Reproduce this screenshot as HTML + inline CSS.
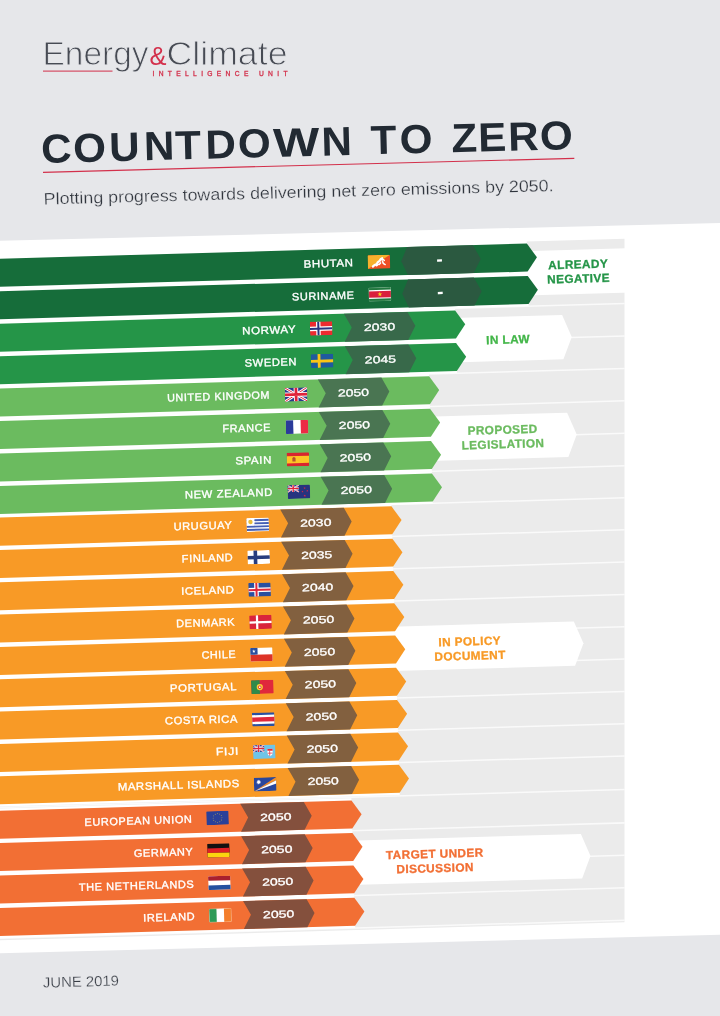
<!DOCTYPE html>
<html lang="en"><head><meta charset="utf-8"><title>Countdown to Zero</title>
<style>html,body{margin:0;padding:0;background:#e6e7ea;overflow:hidden}svg{display:block}text{font-family:"Liberation Sans",sans-serif}.b{font-weight:700}.n{font-size:10.7px;letter-spacing:.6px;fill:#fff;stroke:#fff;stroke-width:.36px}.y{font-size:10.2px;fill:#fff;stroke:#fff;stroke-width:.3px}.l{font-size:11.8px;font-weight:700;letter-spacing:.4px;stroke-width:.3px;text-anchor:middle}</style>
</head><body>
<svg width="720" height="1016" viewBox="0 0 720 1016">
<defs><clipPath id="cg"><rect x="-10" y="0" width="634.5" height="1016"/></clipPath>
<clipPath id="fc"><rect x="0" y="0" width="22.4" height="13.8" rx="1" ry="1"/></clipPath></defs>
<rect width="720" height="1016" fill="#e6e7ea"/>
<polygon points="0,240.8 720,222.9 720,934.7 0,953.3" fill="#fff"/>
<g>
<text x="42.5" y="65" font-size="33.4" fill="#474b54" stroke="#e6e7ea" stroke-width="0.9" textLength="106" lengthAdjust="spacingAndGlyphs">Energy</text>
<text x="149.6" y="65" font-size="25" fill="#d3304b" textLength="17" lengthAdjust="spacingAndGlyphs">&amp;</text>
<text x="166.5" y="65" font-size="33.4" fill="#474b54" stroke="#e6e7ea" stroke-width="0.9" textLength="121" lengthAdjust="spacingAndGlyphs">Climate</text>
<rect x="43" y="70.6" width="69.5" height="1" fill="#d3304b"/>
<text x="152.5" y="75.9" font-size="6.7" fill="#d3304b" stroke="#d3304b" stroke-width="0.3" textLength="135" lengthAdjust="spacing">INTELLIGENCE UNIT</text>
</g>
<g transform="rotate(-1.51 43 172)">
<g transform="translate(0 163) scale(1.04 1)" font-size="40.6" fill="#222a33" font-weight="700" text-anchor="middle">
<text x="54.7 86.8 120.2 153.6 181.5 212.7 245.2 285.5 324.3">COUNTDO<tspan textLength="44.5" lengthAdjust="spacingAndGlyphs">W</tspan>N</text>
<text x="369.4 400.7">TO</text>
<text x="447.1 473.9 503.9 535.6">ZERO</text>
</g>
<rect x="43" y="171.7" width="531.5" height="1.2" fill="#d3304b"/>
<text x="43" y="204.5" font-size="16.6" fill="#30353d" stroke="#e6e7ea" stroke-width="0.25" textLength="510" lengthAdjust="spacingAndGlyphs">Plotting progress towards delivering net zero emissions by 2050.</text>
</g>
<g clip-path="url(#cg)"><g transform="rotate(-1.65)">
<rect x="-40" y="256.6" width="760" height="683.3" fill="#ebebeb"/>
<rect x="-40" y="288.12" width="760" height="1.5" fill="#fff" opacity="0.75"/>
<rect x="-40" y="320.57" width="760" height="1.5" fill="#fff" opacity="0.75"/>
<rect x="-40" y="353.02" width="760" height="1.5" fill="#fff" opacity="0.75"/>
<rect x="-40" y="385.48" width="760" height="1.5" fill="#fff" opacity="0.75"/>
<rect x="-40" y="417.92" width="760" height="1.5" fill="#fff" opacity="0.75"/>
<rect x="-40" y="450.38" width="760" height="1.5" fill="#fff" opacity="0.75"/>
<rect x="-40" y="482.83" width="760" height="1.5" fill="#fff" opacity="0.75"/>
<rect x="-40" y="514.85" width="760" height="1.5" fill="#fff" opacity="0.75"/>
<rect x="-40" y="546.81" width="760" height="1.5" fill="#fff" opacity="0.75"/>
<rect x="-40" y="579.12" width="760" height="1.5" fill="#fff" opacity="0.75"/>
<rect x="-40" y="611.42" width="760" height="1.5" fill="#fff" opacity="0.75"/>
<rect x="-40" y="643.74" width="760" height="1.5" fill="#fff" opacity="0.75"/>
<rect x="-40" y="676.05" width="760" height="1.5" fill="#fff" opacity="0.75"/>
<rect x="-40" y="708.36" width="760" height="1.5" fill="#fff" opacity="0.75"/>
<rect x="-40" y="740.66" width="760" height="1.5" fill="#fff" opacity="0.75"/>
<rect x="-40" y="772.98" width="760" height="1.5" fill="#fff" opacity="0.75"/>
<rect x="-40" y="806.34" width="760" height="1.5" fill="#fff" opacity="0.75"/>
<rect x="-40" y="839.78" width="760" height="1.5" fill="#fff" opacity="0.75"/>
<rect x="-40" y="872.23" width="760" height="1.5" fill="#fff" opacity="0.75"/>
<rect x="-40" y="904.67" width="760" height="1.5" fill="#fff" opacity="0.75"/>
<rect x="-40" y="937.12" width="760" height="1.5" fill="#fff" opacity="0.75"/>
</g></g>
<g transform="rotate(-1.65)">
<polygon points="507.3,288.4 516.3,266.2 751,266.2 760,288.4 751,310.6 516.3,310.6" fill="#fff"/>
<text class="l" x="570.3" y="285" fill="#259548" stroke="#259548">ALREADY</text>
<text class="l" x="570.3" y="299.2" fill="#259548" stroke="#259548">NEGATIVE</text>
<polygon points="433.7,353.2 442.7,331 552.8,331 561.8,353.2 552.8,375.4 442.7,375.4" fill="#fff"/>
<text class="l" x="498" y="358" fill="#43b649" stroke="#43b649">IN LAW</text>
<polygon points="405.8,451 414.8,428.8 555,428.8 564,451 555,473.2 414.8,473.2" fill="#fff"/>
<text class="l" x="490" y="448.1" fill="#6bbb5f" stroke="#6bbb5f">PROPOSED</text>
<text class="l" x="490" y="462.5" fill="#6bbb5f" stroke="#6bbb5f">LEGISLATION</text>
<polygon points="364.4,659.9 373.4,637.7 555.7,637.7 564.7,659.9 555.7,682.1 373.4,682.1" fill="#fff"/>
<text class="l" x="451" y="658.65" fill="#f89a26" stroke="#f89a26">IN POLICY</text>
<text class="l" x="451" y="673.05" fill="#f89a26" stroke="#f89a26">DOCUMENT</text>
<polygon points="316,872.6 325,850.4 556.6,850.4 565.6,872.6 556.6,894.8 325,894.8" fill="#fff"/>
<text class="l" x="410" y="870" fill="#f26f34" stroke="#f26f34">TARGET UNDER</text>
<text class="l" x="410" y="884.4" fill="#f26f34" stroke="#f26f34">DISCUSSION</text>
<rect x="-40" y="254.4" width="559.6" height="34.5" fill="#fff"/>
<polygon points="-40,258.65 519.6,258.65 529.3,272.65 519.6,286.65 -40,286.65" fill="#166d3a"/>
<polygon points="393.65,272.65 399.8,258.65 465.6,258.65 473.1,272.65 465.6,286.65 399.8,286.65" fill="#2b5940"/>
<text class="n" x="345.9" y="276.35" text-anchor="end" textLength="49.9" lengthAdjust="spacingAndGlyphs">BHUTAN</text>
<g transform="translate(360.05 265.75)"><g clip-path="url(#fc)"><rect x="0" y="0" width="22.4" height="13.8" fill="#ee4e25"/><polygon points="0,0 22.4,0 0,13.8" fill="#f6b12d"/><path d="M5,11.4 C6.6,9.4 8.2,10.2 9.4,8.2 C10.2,6.2 11.8,7.2 12.4,5.2 C12.8,4 13.6,3.6 14.4,3.4" stroke="#fff" stroke-width="2.3" fill="none" stroke-linecap="round"/><path d="M13,4.6 C14.6,4 16,4.6 16.6,5.6 M14.6,6 C15.4,7.4 15,8.6 16,9 L17.4,9.8 M8.6,10.8 L10.4,9.4 M11.4,9.6 L12.8,8" stroke="#fff" stroke-width="1.5" fill="none" stroke-linecap="round"/></g></g>
<text class="b" x="431.77" y="278.05" font-size="19" text-anchor="middle" fill="#fff">-</text>
<rect x="-40" y="288.85" width="559.6" height="32.5" fill="#fff"/>
<polygon points="-40,291.1 519.6,291.1 529.3,305.1 519.6,319.1 -40,319.1" fill="#166d3a"/>
<polygon points="393.65,305.1 399.8,291.1 465.6,291.1 473.1,305.1 465.6,319.1 399.8,319.1" fill="#2b5940"/>
<text class="n" x="345.9" y="308.8" text-anchor="end" textLength="62.6" lengthAdjust="spacingAndGlyphs">SURINAME</text>
<g transform="translate(360.05 298.2)"><g clip-path="url(#fc)"><rect x="0" y="0" width="22.4" height="13.8" fill="#fff"/><rect x="0" y="0" width="22.4" height="2.5" fill="#22783f"/><rect x="0" y="11.3" width="22.4" height="2.5" fill="#22783f"/><rect x="0" y="3.7" width="22.4" height="6.4" fill="#d9203c"/><polygon points="11.20,4.40 11.79,6.09 13.58,6.13 12.15,7.21 12.67,8.92 11.20,7.90 9.73,8.92 10.25,7.21 8.82,6.13 10.61,6.09" fill="#f9d616"/><rect x="0.25" y="0.25" width="21.9" height="13.3" fill="none" stroke="#8fc29c" stroke-width="0.5" opacity="0.6"/></g></g>
<text class="b" x="431.77" y="310.5" font-size="19" text-anchor="middle" fill="#fff">-</text>
<rect x="-40" y="321.3" width="486" height="32.5" fill="#fff"/>
<polygon points="-40,323.55 446,323.55 455.7,337.55 446,351.55 -40,351.55" fill="#259548"/>
<polygon points="334.7,323.55 398.3,323.55 405.8,337.55 398.3,351.55 334.7,351.55 342.2,337.55" fill="#38694a"/>
<text class="n" x="286.5" y="341.25" text-anchor="end" textLength="53.9" lengthAdjust="spacingAndGlyphs">NORWAY</text>
<g transform="translate(300.4 330.65)"><g clip-path="url(#fc)"><rect x="0" y="0" width="22.4" height="13.8" fill="#ee2b30"/><rect x="6.2" y="0" width="4.4" height="13.8" fill="#fff"/><rect x="0" y="4.9" width="22.4" height="4.4" fill="#fff"/><rect x="7.4" y="0" width="2.0" height="13.8" fill="#2a3580"/><rect x="0" y="6.1" width="22.4" height="2.0" fill="#2a3580"/></g></g>
<text class="y" x="369.9" y="341.3" text-anchor="middle" textLength="31.3" lengthAdjust="spacingAndGlyphs">2030</text>
<rect x="-40" y="353.75" width="486" height="32.5" fill="#fff"/>
<polygon points="-40,356 446,356 455.7,370 446,384 -40,384" fill="#259548"/>
<polygon points="334.7,356 398.3,356 405.8,370 398.3,384 334.7,384 342.2,370" fill="#38694a"/>
<text class="n" x="286.5" y="373.7" text-anchor="end" textLength="52.35" lengthAdjust="spacingAndGlyphs">SWEDEN</text>
<g transform="translate(300.4 363.1)"><g clip-path="url(#fc)"><rect x="0" y="0" width="22.4" height="13.8" fill="#1f5a9e"/><rect x="6.8" y="0" width="2.8" height="13.8" fill="#fbc516"/><rect x="0" y="5.7" width="22.4" height="2.8" fill="#fbc516"/></g></g>
<text class="y" x="369.9" y="373.75" text-anchor="middle" textLength="31.3" lengthAdjust="spacingAndGlyphs">2045</text>
<rect x="-40" y="386.2" width="458.1" height="32.5" fill="#fff"/>
<polygon points="-40,388.45 418.1,388.45 427.8,402.45 418.1,416.45 -40,416.45" fill="#6bbb5f"/>
<polygon points="306.8,388.45 370.4,388.45 377.9,402.45 370.4,416.45 306.8,416.45 314.3,402.45" fill="#4a7552"/>
<text class="n" x="258.6" y="406.15" text-anchor="end" textLength="103.1" lengthAdjust="spacingAndGlyphs">UNITED KINGDOM</text>
<g transform="translate(273.4 395.95)"><g clip-path="url(#fc)"><rect x="0" y="0" width="22.4" height="13.8" fill="#2b3a8c"/><path d="M0,0L22.4,13.8M22.4,0L0,13.8" stroke="#fff" stroke-width="2.76"/><path d="M0,0L22.4,13.8M22.4,0L0,13.8" stroke="#e0243b" stroke-width="0.97"/><path d="M11.2,0V13.8M0,6.9H22.4" stroke="#fff" stroke-width="4.55"/><path d="M11.2,0V13.8M0,6.9H22.4" stroke="#e0243b" stroke-width="2.76"/></g></g>
<text class="y" x="342" y="406.2" text-anchor="middle" textLength="31.3" lengthAdjust="spacingAndGlyphs">2050</text>
<rect x="-40" y="418.65" width="458.1" height="32.5" fill="#fff"/>
<polygon points="-40,420.9 418.1,420.9 427.8,434.9 418.1,448.9 -40,448.9" fill="#6bbb5f"/>
<polygon points="306.8,420.9 370.4,420.9 377.9,434.9 370.4,448.9 306.8,448.9 314.3,434.9" fill="#4a7552"/>
<text class="n" x="258.6" y="438.6" text-anchor="end" textLength="48.6" lengthAdjust="spacingAndGlyphs">FRANCE</text>
<g transform="translate(273.4 428.4)"><g clip-path="url(#fc)"><rect x="0" y="0" width="22.4" height="13.8" fill="#fff"/><rect x="0" y="0" width="7.466666666666666" height="13.8" fill="#2b3a9a"/><rect x="14.933333333333332" y="0" width="7.5666666666666655" height="13.8" fill="#ec2a45"/></g></g>
<text class="y" x="342" y="438.65" text-anchor="middle" textLength="31.3" lengthAdjust="spacingAndGlyphs">2050</text>
<rect x="-40" y="451.1" width="458.1" height="32.5" fill="#fff"/>
<polygon points="-40,453.35 418.1,453.35 427.8,467.35 418.1,481.35 -40,481.35" fill="#6bbb5f"/>
<polygon points="306.8,453.35 370.4,453.35 377.9,467.35 370.4,481.35 306.8,481.35 314.3,467.35" fill="#4a7552"/>
<text class="n" x="258.6" y="471.05" text-anchor="end" textLength="36.6" lengthAdjust="spacingAndGlyphs">SPAIN</text>
<g transform="translate(273.4 460.85)"><g clip-path="url(#fc)"><rect x="0" y="0" width="22.4" height="13.8" fill="#d8262f"/><rect x="0" y="3.5" width="22.4" height="7.2" fill="#fcc525"/><rect x="5.6" y="5.2" width="3.2" height="3.8" fill="#b5552b"/><rect x="6.3" y="4.6" width="1.8" height="1.2" fill="#c43b2e"/></g></g>
<text class="y" x="342" y="471.1" text-anchor="middle" textLength="31.3" lengthAdjust="spacingAndGlyphs">2050</text>
<rect x="-40" y="483.55" width="458.1" height="32.5" fill="#fff"/>
<polygon points="-40,485.8 418.1,485.8 427.8,499.8 418.1,513.8 -40,513.8" fill="#6bbb5f"/>
<polygon points="306.8,485.8 370.4,485.8 377.9,499.8 370.4,513.8 306.8,513.8 314.3,499.8" fill="#4a7552"/>
<text class="n" x="258.6" y="503.5" text-anchor="end" textLength="88.1" lengthAdjust="spacingAndGlyphs">NEW ZEALAND</text>
<g transform="translate(273.4 493.3)"><g clip-path="url(#fc)"><rect x="0" y="0" width="22.4" height="13.8" fill="#27337f"/><g><rect x="0" y="0" width="11.2" height="6.9" fill="#2b3a8c"/><path d="M0,0L11.2,6.9M11.2,0L0,6.9" stroke="#fff" stroke-width="1.38"/><path d="M0,0L11.2,6.9M11.2,0L0,6.9" stroke="#e0243b" stroke-width="0.48"/><path d="M5.6,0V6.9M0,3.45H11.2" stroke="#fff" stroke-width="2.28"/><path d="M5.6,0V6.9M0,3.45H11.2" stroke="#e0243b" stroke-width="1.38"/></g><polygon points="17.00,2.20 17.28,3.01 18.14,3.03 17.46,3.55 17.71,4.37 17.00,3.88 16.29,4.37 16.54,3.55 15.86,3.03 16.72,3.01" fill="#e8283f"/><polygon points="19.60,5.10 19.86,5.84 20.65,5.86 20.02,6.34 20.25,7.09 19.60,6.64 18.95,7.09 19.18,6.34 18.55,5.86 19.34,5.84" fill="#e8283f"/><polygon points="14.80,5.70 15.06,6.44 15.85,6.46 15.22,6.94 15.45,7.69 14.80,7.24 14.15,7.69 14.38,6.94 13.75,6.46 14.54,6.44" fill="#e8283f"/><polygon points="17.00,9.70 17.31,10.58 18.24,10.60 17.49,11.16 17.76,12.05 17.00,11.52 16.24,12.05 16.51,11.16 15.76,10.60 16.69,10.58" fill="#e8283f"/></g></g>
<text class="y" x="342" y="503.55" text-anchor="middle" textLength="31.3" lengthAdjust="spacingAndGlyphs">2050</text>
<rect x="-40" y="515.15" width="416.7" height="32.5" fill="#fff"/>
<polygon points="-40,517.4 376.7,517.4 386.4,531.4 376.7,545.4 -40,545.4" fill="#f89a26"/>
<polygon points="265.4,517.4 329,517.4 336.5,531.4 329,545.4 265.4,545.4 272.9,531.4" fill="#82603f"/>
<text class="n" x="217.2" y="535.1" text-anchor="end" textLength="58.9" lengthAdjust="spacingAndGlyphs">URUGUAY</text>
<g transform="translate(231.3 525.05)"><g clip-path="url(#fc)"><rect x="0" y="0" width="22.4" height="13.8" fill="#fff"/><rect x="0" y="1.3" width="22.4" height="1.9" fill="#4660b4"/><rect x="0" y="4.5" width="22.4" height="1.9" fill="#4660b4"/><rect x="0" y="7.7" width="22.4" height="1.9" fill="#4660b4"/><rect x="0" y="10.900000000000002" width="22.4" height="1.9" fill="#4660b4"/><rect x="0" y="0" width="8.0" height="7.6" fill="#fff"/><circle cx="4.0" cy="3.9" r="2.2" fill="#e9bd3a"/></g></g>
<text class="y" x="300.6" y="535.15" text-anchor="middle" textLength="31.3" lengthAdjust="spacingAndGlyphs">2030</text>
<rect x="-40" y="547.46" width="416.7" height="32.5" fill="#fff"/>
<polygon points="-40,549.71 376.7,549.71 386.4,563.71 376.7,577.71 -40,577.71" fill="#f89a26"/>
<polygon points="265.4,549.71 329,549.71 336.5,563.71 329,577.71 265.4,577.71 272.9,563.71" fill="#82603f"/>
<text class="n" x="217.2" y="567.41" text-anchor="end" textLength="51.6" lengthAdjust="spacingAndGlyphs">FINLAND</text>
<g transform="translate(231.3 557.5)"><g clip-path="url(#fc)"><rect x="0" y="0" width="22.4" height="13.8" fill="#fff"/><rect x="6.2" y="0" width="3.6" height="13.8" fill="#263c7e"/><rect x="0" y="5.3" width="22.4" height="3.6" fill="#263c7e"/></g></g>
<text class="y" x="300.6" y="567.46" text-anchor="middle" textLength="31.3" lengthAdjust="spacingAndGlyphs">2035</text>
<rect x="-40" y="579.77" width="416.7" height="32.5" fill="#fff"/>
<polygon points="-40,582.02 376.7,582.02 386.4,596.02 376.7,610.02 -40,610.02" fill="#f89a26"/>
<polygon points="265.4,582.02 329,582.02 336.5,596.02 329,610.02 265.4,610.02 272.9,596.02" fill="#82603f"/>
<text class="n" x="217.2" y="599.72" text-anchor="end" textLength="53.1" lengthAdjust="spacingAndGlyphs">ICELAND</text>
<g transform="translate(231.3 589.95)"><g clip-path="url(#fc)"><rect x="0" y="0" width="22.4" height="13.8" fill="#2a4fa0"/><rect x="5.9" y="0" width="4.4" height="13.8" fill="#fff"/><rect x="0" y="4.9" width="22.4" height="4.4" fill="#fff"/><rect x="7.1" y="0" width="2.0" height="13.8" fill="#e0283c"/><rect x="0" y="6.1" width="22.4" height="2.0" fill="#e0283c"/></g></g>
<text class="y" x="300.6" y="599.77" text-anchor="middle" textLength="31.3" lengthAdjust="spacingAndGlyphs">2040</text>
<rect x="-40" y="612.08" width="416.7" height="32.5" fill="#fff"/>
<polygon points="-40,614.33 376.7,614.33 386.4,628.33 376.7,642.33 -40,642.33" fill="#f89a26"/>
<polygon points="265.4,614.33 329,614.33 336.5,628.33 329,642.33 265.4,642.33 272.9,628.33" fill="#82603f"/>
<text class="n" x="217.2" y="632.03" text-anchor="end" textLength="59.1" lengthAdjust="spacingAndGlyphs">DENMARK</text>
<g transform="translate(231.3 622.4)"><g clip-path="url(#fc)"><rect x="0" y="0" width="22.4" height="13.8" fill="#d9243c"/><rect x="6.7" y="0" width="2.2" height="13.8" fill="#fff"/><rect x="0" y="6.0" width="22.4" height="2.2" fill="#fff"/></g></g>
<text class="y" x="300.6" y="632.08" text-anchor="middle" textLength="31.3" lengthAdjust="spacingAndGlyphs">2050</text>
<rect x="-40" y="644.39" width="416.7" height="32.5" fill="#fff"/>
<polygon points="-40,646.64 376.7,646.64 386.4,660.64 376.7,674.64 -40,674.64" fill="#f89a26"/>
<polygon points="265.4,646.64 329,646.64 336.5,660.64 329,674.64 265.4,674.64 272.9,660.64" fill="#82603f"/>
<text class="n" x="217.2" y="664.34" text-anchor="end" textLength="34.6" lengthAdjust="spacingAndGlyphs">CHILE</text>
<g transform="translate(231.3 654.85)"><g clip-path="url(#fc)"><rect x="0" y="0" width="22.4" height="13.8" fill="#fff"/><rect x="0" y="6.9" width="22.4" height="6.9" fill="#dd3327"/><rect x="0" y="0" width="7.4" height="6.9" fill="#2a4fa0"/><polygon points="3.70,1.65 4.15,2.94 5.51,2.96 4.42,3.78 4.82,5.09 3.70,4.31 2.58,5.09 2.98,3.78 1.89,2.96 3.25,2.94" fill="#fff"/></g></g>
<text class="y" x="300.6" y="664.39" text-anchor="middle" textLength="31.3" lengthAdjust="spacingAndGlyphs">2050</text>
<rect x="-40" y="676.7" width="416.7" height="32.5" fill="#fff"/>
<polygon points="-40,678.95 376.7,678.95 386.4,692.95 376.7,706.95 -40,706.95" fill="#f89a26"/>
<polygon points="265.4,678.95 329,678.95 336.5,692.95 329,706.95 265.4,706.95 272.9,692.95" fill="#82603f"/>
<text class="n" x="217.2" y="696.65" text-anchor="end" textLength="67.1" lengthAdjust="spacingAndGlyphs">PORTUGAL</text>
<g transform="translate(231.3 687.3)"><g clip-path="url(#fc)"><rect x="0" y="0" width="22.4" height="13.8" fill="#e0283c"/><rect x="0" y="0" width="8.6" height="13.8" fill="#2e8a4a"/><circle cx="8.6" cy="7.1" r="3.1" fill="#f7d038"/><circle cx="8.6" cy="7.1" r="1.7" fill="#e0283c"/><circle cx="8.6" cy="7.1" r="0.9" fill="#fff"/></g></g>
<text class="y" x="300.6" y="696.7" text-anchor="middle" textLength="31.3" lengthAdjust="spacingAndGlyphs">2050</text>
<rect x="-40" y="709.01" width="416.7" height="32.5" fill="#fff"/>
<polygon points="-40,711.26 376.7,711.26 386.4,725.26 376.7,739.26 -40,739.26" fill="#f89a26"/>
<polygon points="265.4,711.26 329,711.26 336.5,725.26 329,739.26 265.4,739.26 272.9,725.26" fill="#82603f"/>
<text class="n" x="217.2" y="728.96" text-anchor="end" textLength="73.1" lengthAdjust="spacingAndGlyphs">COSTA RICA</text>
<g transform="translate(231.3 719.75)"><g clip-path="url(#fc)"><rect x="0" y="0" width="22.4" height="13.8" fill="#2a4fa0"/><rect x="0" y="2.4" width="22.4" height="9.0" fill="#fff"/><rect x="0" y="4.7" width="22.4" height="4.4" fill="#e0283c"/></g></g>
<text class="y" x="300.6" y="729.01" text-anchor="middle" textLength="31.3" lengthAdjust="spacingAndGlyphs">2050</text>
<rect x="-40" y="741.32" width="416.7" height="32.5" fill="#fff"/>
<polygon points="-40,743.57 376.7,743.57 386.4,757.57 376.7,771.57 -40,771.57" fill="#f89a26"/>
<polygon points="265.4,743.57 329,743.57 336.5,757.57 329,771.57 265.4,771.57 272.9,757.57" fill="#82603f"/>
<text class="n" x="217.2" y="761.27" text-anchor="end" textLength="23.1" lengthAdjust="spacingAndGlyphs">FIJI</text>
<g transform="translate(231.3 752.2)"><g clip-path="url(#fc)"><rect x="0" y="0" width="22.4" height="13.8" fill="#6fc4e8"/><g><rect x="0" y="0" width="11.2" height="6.9" fill="#2b3a8c"/><path d="M0,0L11.2,6.9M11.2,0L0,6.9" stroke="#fff" stroke-width="1.38"/><path d="M0,0L11.2,6.9M11.2,0L0,6.9" stroke="#e0243b" stroke-width="0.48"/><path d="M5.6,0V6.9M0,3.45H11.2" stroke="#fff" stroke-width="2.28"/><path d="M5.6,0V6.9M0,3.45H11.2" stroke="#e0243b" stroke-width="1.38"/></g><path d="M14.4,4.2h5.2v4.2q0,2.2-2.6,3q-2.6-0.8-2.6-3z" fill="#fff"/><path d="M14.4,4.2h5.2v1.8h-5.2z" fill="#e0283c"/><path d="M16.6,6v5.2M14.5,8.4h5" stroke="#e0283c" stroke-width="0.7"/></g></g>
<text class="y" x="300.6" y="761.32" text-anchor="middle" textLength="31.3" lengthAdjust="spacingAndGlyphs">2050</text>
<rect x="-40" y="773.63" width="416.7" height="32.5" fill="#fff"/>
<polygon points="-40,775.88 376.7,775.88 386.4,789.88 376.7,803.88 -40,803.88" fill="#f89a26"/>
<polygon points="265.4,775.88 329,775.88 336.5,789.88 329,803.88 265.4,803.88 272.9,789.88" fill="#82603f"/>
<text class="n" x="217.2" y="793.58" text-anchor="end" textLength="122.1" lengthAdjust="spacingAndGlyphs">MARSHALL ISLANDS</text>
<g transform="translate(231.3 784.65)"><g clip-path="url(#fc)"><rect x="0" y="0" width="22.4" height="13.8" fill="#2a479c"/><polygon points="0,13.8 22.4,0 22.4,3.2" fill="#f28c28"/><polygon points="0,13.8 22.4,3.2 22.4,6.6" fill="#fff"/><polygon points="4.80,2.00 5.14,3.34 6.10,2.35 5.72,3.68 7.05,3.30 6.06,4.26 7.40,4.60 6.06,4.94 7.05,5.90 5.72,5.52 6.10,6.85 5.14,5.86 4.80,7.20 4.46,5.86 3.50,6.85 3.88,5.52 2.55,5.90 3.54,4.94 2.20,4.60 3.54,4.26 2.55,3.30 3.88,3.68 3.50,2.35 4.46,3.34" fill="#fff"/></g></g>
<text class="y" x="300.6" y="793.63" text-anchor="middle" textLength="31.3" lengthAdjust="spacingAndGlyphs">2050</text>
<rect x="-40" y="808.05" width="368.3" height="32.5" fill="#fff"/>
<polygon points="-40,810.3 328.3,810.3 338,824.3 328.3,838.3 -40,838.3" fill="#f26f34"/>
<polygon points="217,810.3 280.6,810.3 288.1,824.3 280.6,838.3 217,838.3 224.5,824.3" fill="#84503d"/>
<text class="n" x="168.8" y="828" text-anchor="end" textLength="108" lengthAdjust="spacingAndGlyphs">EUROPEAN UNION</text>
<g transform="translate(182.7 817)"><g clip-path="url(#fc)"><rect x="0" y="0" width="22.4" height="13.8" fill="#2a4099"/><circle cx="15.60" cy="6.90" r="0.45" fill="#e8c93a"/><circle cx="15.01" cy="9.10" r="0.45" fill="#e8c93a"/><circle cx="13.40" cy="10.71" r="0.45" fill="#e8c93a"/><circle cx="11.20" cy="11.30" r="0.45" fill="#e8c93a"/><circle cx="9.00" cy="10.71" r="0.45" fill="#e8c93a"/><circle cx="7.39" cy="9.10" r="0.45" fill="#e8c93a"/><circle cx="6.80" cy="6.90" r="0.45" fill="#e8c93a"/><circle cx="7.39" cy="4.70" r="0.45" fill="#e8c93a"/><circle cx="9.00" cy="3.09" r="0.45" fill="#e8c93a"/><circle cx="11.20" cy="2.50" r="0.45" fill="#e8c93a"/><circle cx="13.40" cy="3.09" r="0.45" fill="#e8c93a"/><circle cx="15.01" cy="4.70" r="0.45" fill="#e8c93a"/></g></g>
<text class="y" x="252.2" y="828.05" text-anchor="middle" textLength="31.3" lengthAdjust="spacingAndGlyphs">2050</text>
<rect x="-40" y="840.5" width="368.3" height="32.5" fill="#fff"/>
<polygon points="-40,842.75 328.3,842.75 338,856.75 328.3,870.75 -40,870.75" fill="#f26f34"/>
<polygon points="217,842.75 280.6,842.75 288.1,856.75 280.6,870.75 217,870.75 224.5,856.75" fill="#84503d"/>
<text class="n" x="168.8" y="860.45" text-anchor="end" textLength="59.6" lengthAdjust="spacingAndGlyphs">GERMANY</text>
<g transform="translate(182.7 849.45)"><g clip-path="url(#fc)"><rect x="0" y="0" width="22.4" height="13.8" fill="#111"/><rect x="0" y="4.6000000000000005" width="22.4" height="4.6000000000000005" fill="#de1f26"/><rect x="0" y="9.200000000000001" width="22.4" height="4.7" fill="#fbd40f"/></g></g>
<text class="y" x="252.2" y="860.5" text-anchor="middle" textLength="31.3" lengthAdjust="spacingAndGlyphs">2050</text>
<rect x="-40" y="872.95" width="368.3" height="32.5" fill="#fff"/>
<polygon points="-40,875.2 328.3,875.2 338,889.2 328.3,903.2 -40,903.2" fill="#f26f34"/>
<polygon points="217,875.2 280.6,875.2 288.1,889.2 280.6,903.2 217,903.2 224.5,889.2" fill="#84503d"/>
<text class="n" x="168.8" y="892.9" text-anchor="end" textLength="115.6" lengthAdjust="spacingAndGlyphs">THE NETHERLANDS</text>
<g transform="translate(182.7 881.9)"><g clip-path="url(#fc)"><rect x="0" y="0" width="22.4" height="13.8" fill="#fff"/><rect x="0" y="0" width="22.4" height="4.6000000000000005" fill="#a8202e"/><rect x="0" y="9.200000000000001" width="22.4" height="4.7" fill="#2450a0"/></g></g>
<text class="y" x="252.2" y="892.95" text-anchor="middle" textLength="31.3" lengthAdjust="spacingAndGlyphs">2050</text>
<rect x="-40" y="905.4" width="368.3" height="32.5" fill="#fff"/>
<polygon points="-40,907.65 328.3,907.65 338,921.65 328.3,935.65 -40,935.65" fill="#f26f34"/>
<polygon points="217,907.65 280.6,907.65 288.1,921.65 280.6,935.65 217,935.65 224.5,921.65" fill="#84503d"/>
<text class="n" x="168.8" y="925.35" text-anchor="end" textLength="52.1" lengthAdjust="spacingAndGlyphs">IRELAND</text>
<g transform="translate(182.7 914.35)"><g clip-path="url(#fc)"><rect x="0" y="0" width="22.4" height="13.8" fill="#fff"/><rect x="0" y="0" width="7.466666666666666" height="13.8" fill="#2e9b57"/><rect x="14.933333333333332" y="0" width="7.5666666666666655" height="13.8" fill="#f47e2c"/><rect x="0.25" y="0.25" width="21.9" height="13.3" fill="none" stroke="#fbd3b5" stroke-width="0.5" opacity="0.7"/></g></g>
<text class="y" x="252.2" y="925.4" text-anchor="middle" textLength="31.3" lengthAdjust="spacingAndGlyphs">2050</text>
</g>
<text x="43" y="987.6" font-size="14.6" fill="#3a3f47" stroke="#e6e7ea" stroke-width="0.2" textLength="76" lengthAdjust="spacingAndGlyphs" transform="rotate(-1.5 43 987)">JUNE 2019</text>
</svg>
</body></html>
